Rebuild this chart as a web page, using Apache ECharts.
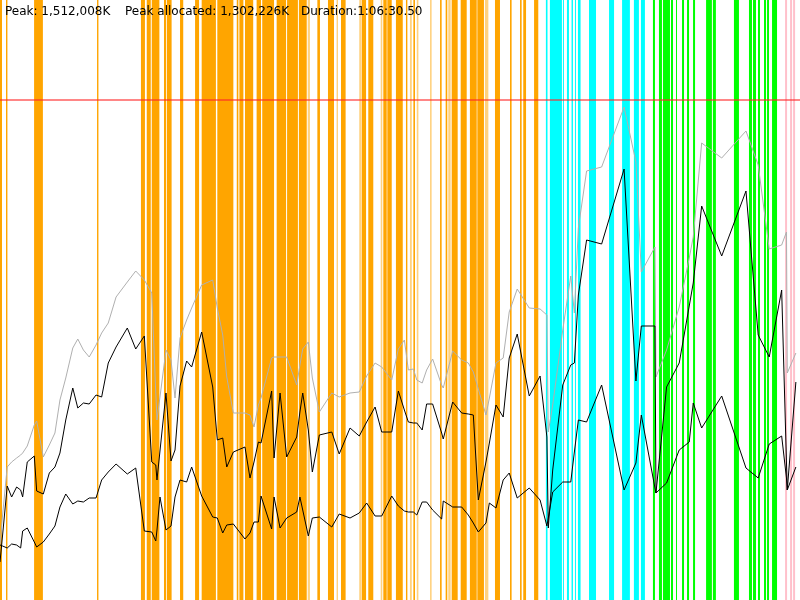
<!DOCTYPE html>
<html><head><meta charset="utf-8">
<script src="https://cdn.jsdelivr.net/npm/echarts@6/dist/echarts.min.js"></script>
<style>html,body{margin:0;padding:0;background:#fff}#c{width:800px;height:600px}</style>
</head><body><div id="c"></div>
<script>
// Duration 1:06:30.50 in seconds
const durationSec = 3990.5;
const axisMax = 1800; // memory axis top (thousands of K)
const limitLine = 1500; // red limit line (thousands of K)

const headerTexts = ["Peak: 1,512,008K", "Peak allocated: 1,302,226K", "Duration:1:06:30.50"];

// sample times (s)
const times = [0,13,36,58,83,103,113,136,171,183,216,246,274,299,328,363,388,416,445,479,507,540,579,635,677,720,757,777,783,798,828,853,873,898,931,956,1006,1061,1084,1111,1131,1164,1222,1247,1267,1289,1302,1355,1367,1397,1430,1480,1496,1510,1538,1558,1593,1655,1692,1746,1792,1829,1871,1904,1954,1987,2017,2037,2062,2079,2106,2128,2158,2203,2211,2258,2303,2336,2361,2386,2424,2441,2474,2510,2540,2580,2640,2694,2728,2735,2757,2807,2847,2865,2885,2926,3001,3113,3172,3199,3267,3272,3325,3388,3438,3458,3500,3600,3721,3782,3837,3899,3923,3927,3970];

// gray series (heap size)
const heapSize = [165,255,399,414,426,435,441,462,525,537,429,465,501,600,666,756,783,750,729,765,801,831,909,954,987,960,921,621,540,609,750,720,606,786,840,876,945,960,876,795,669,561,561,555,519,585,606,726,729,729,729,645,705,753,774,666,564,621,609,621,624,672,711,699,660,753,780,690,693,660,651,690,723,645,636,747,720,711,684,633,555,606,711,726,864,933,876,873,855,504,585,810,972,861,1116,1287,1299,1479,1314,984,1059,669,750,879,1026,1089,1371,1326,1407,1305,1053,1065,1104,681,741];

// upper black series (used after)
const usedPeak = [114,195,342,309,339,330,309,414,432,327,318,381,399,441,540,636,576,591,588,615,609,711,759,816,753,792,414,405,360,447,621,417,450,642,717,699,804,639,480,486,399,444,459,366,414,474,471,627,426,621,429,489,564,621,510,384,495,504,438,516,492,534,579,504,504,627,570,534,531,531,510,588,588,501,483,594,561,558,555,300,414,471,585,549,726,798,612,672,489,216,390,645,705,711,915,1080,1068,1293,657,822,822,321,639,711,882,951,1182,1032,1227,795,729,930,414,330,654];

// lower black series (live)
const usedLive = [165,162,156,168,165,156,207,216,174,159,174,198,222,279,318,288,297,294,306,306,360,384,408,378,396,207,204,177,210,309,210,222,309,360,354,399,312,249,246,201,225,228,183,201,234,234,312,213,309,216,246,264,309,270,192,246,249,219,258,246,261,291,252,252,312,282,267,264,264,255,294,294,270,243,297,279,279,255,231,204,231,291,276,360,381,306,336,300,222,216,324,354,354,444,540,534,645,330,411,555,336,321,351,450,474,591,516,612,396,366,468,492,366,330,399];

// event bands (start s, end s)
const orangeBands = [[0,10],[30,37],[170,214],[484,491],[703,723],[732,752],[757,795],[818,828],[832,856],[898,914],[973,993],[1006,1077],[1084,1164],[1181,1189],[1194,1214],[1222,1263],[1280,1302],[1308,1367],[1380,1427],[1432,1486],[1491,1530],[1583,1596],[1636,1666],[1701,1724],[1804,1826],[1837,1862],[1912,1929],[1932,1954],[1975,2009],[2025,2032],[2062,2070],[2195,2203],[2223,2231],[2253,2283],[2298,2328],[2344,2378],[2381,2414],[2469,2494],[2544,2552],[2594,2602],[2610,2624],[2664,2685]];
const orangeLightBands = [[1535,1546],[1679,1686],[1792,1801],[1899,1907],[2045,2054],[2079,2087],[2145,2153],[2236,2248],[2419,2436]];
const cyanBands = [[2723,2731],[2743,2803],[2808,2813],[2828,2838],[2851,2858],[2868,2873],[2883,2896],[2938,2973],[3038,3063],[3103,3142],[3162,3187],[3197,3217]];
const greenBands = [[3257,3267],[3287,3302],[3307,3342],[3347,3357],[3372,3377],[3402,3412],[3427,3437],[3457,3467],[3522,3551],[3556,3571],[3661,3686],[3736,3751],[3756,3771],[3781,3791],[3811,3821],[3826,3836],[3851,3876]];
const pinkBands = [[3916,3926],[3941,3951],[3956,3966]];

const pairs = vals => times.map((t, i) => [t, vals[i]]);
const bands = (list, color, opacity) => list.map(b => [
  {xAxis: b[0], itemStyle: {color: color, opacity: opacity, borderWidth: 0}},
  {xAxis: b[1]}
]);

const chart = echarts.init(document.getElementById('c'), null, {renderer: 'canvas'});
chart.setOption({
  animation: false,
  backgroundColor: '#ffffff',
  grid: {left: 0, right: 0, top: 0, bottom: 0},
  xAxis: {type: 'value', min: 0, max: durationSec, show: false},
  yAxis: {type: 'value', min: 0, max: axisMax, show: false},
  graphic: headerTexts.map((t, i) => ({
    type: 'text', z: 100,
    x: [5, 125, 301][i], y: 12,
    style: {text: t, font: '12px "DejaVu Sans"', fill: '#000', verticalAlign: 'middle'}
  })),
  series: [
    {
      type: 'line', data: [], z: 1, silent: true,
      markArea: {
        silent: true,
        data: [].concat(
          bands(orangeBands, '#FFA500', 1),
          bands(orangeLightBands, '#FFA500', 0.5),
          bands(cyanBands, '#00FFFF', 1),
          bands(greenBands, '#00FF00', 1),
          bands(pinkBands, '#FFC0CB', 1)
        )
      }
    },
    {
      type: 'line', data: pairs(heapSize), z: 3, showSymbol: false, silent: true,
      lineStyle: {color: '#b0b0b0', width: 1}
    },
    {
      type: 'line', data: pairs(usedPeak), z: 4, showSymbol: false, silent: true,
      lineStyle: {color: '#000', width: 1}
    },
    {
      type: 'line', data: pairs(usedLive), z: 4, showSymbol: false, silent: true,
      lineStyle: {color: '#000', width: 1},
      markLine: {
        silent: true, symbol: ['none', 'none'], label: {show: false},
        lineStyle: {color: 'rgba(255,40,40,0.75)', width: 1.5, type: 'solid'},
        data: [{yAxis: limitLine}]
      }
    }
  ]
});
</script>
</body></html>
